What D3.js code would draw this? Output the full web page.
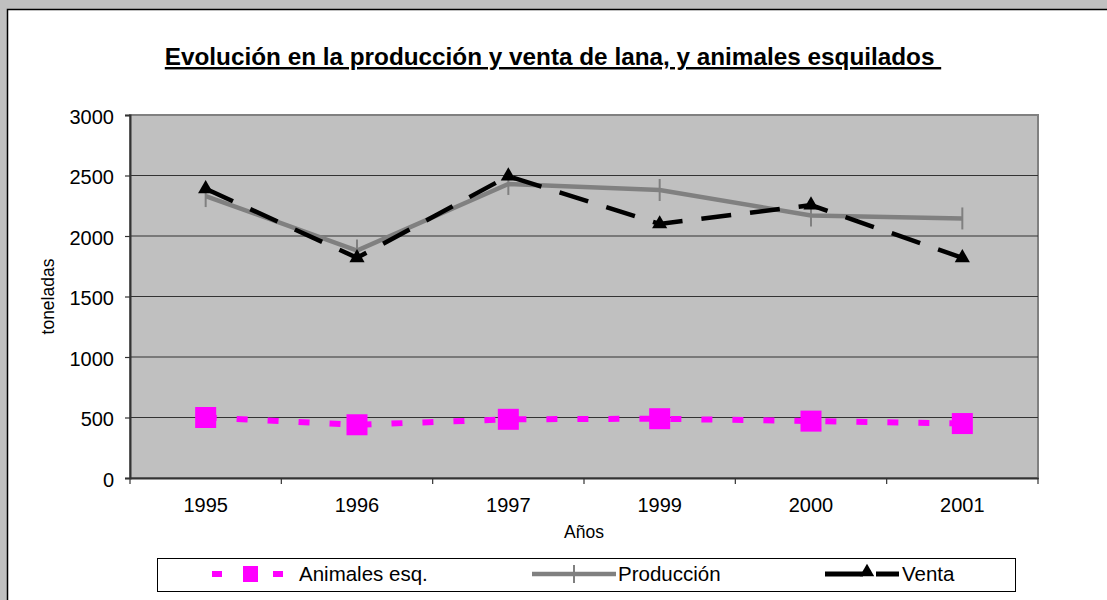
<!DOCTYPE html>
<html>
<head>
<meta charset="utf-8">
<script src="https://cdn.jsdelivr.net/npm/d3@7"></script>
<style>
  html, body { margin: 0; padding: 0; background: #c0c0c0; overflow: hidden; }
  text { font-family: "Liberation Sans", Arial, sans-serif; fill: #000; }
</style>
</head>
<body>
<script>
// chart values
var years = ["1995", "1996", "1997", "1999", "2000", "2001"];
var animales = [500, 440, 485, 490, 470, 450];
var produccion = [2330, 1880, 2430, 2380, 2170, 2145];
var venta = [2390, 1820, 2495, 2100, 2255, 1820];
var yTicks = [0, 500, 1000, 1500, 2000, 2500, 3000];
var legendNames = ["Animales esq.", "Producción", "Venta"];

var W = 1107, H = 600;
var plot = {left: 130, right: 1038, top: 115, bottom: 478};

var svg = d3.select("body").append("svg")
  .attr("width", W)
  .attr("height", H);

// white chart panel on the grey page
svg.append("rect")
  .attr("x", 7.5).attr("y", 9.5)
  .attr("width", W + 20).attr("height", H + 20)
  .style("fill", "#fff")
  .style("stroke", "#000")
  .style("stroke-width", 1.5);

var x = d3.scaleBand().domain(years).range([plot.left, plot.right]);
var y = d3.scaleLinear().domain([0, 3000]).range([plot.bottom, plot.top]);

// plot area
svg.append("rect")
  .attr("x", plot.left).attr("y", plot.top)
  .attr("width", plot.right - plot.left).attr("height", plot.bottom - plot.top)
  .style("fill", "#c0c0c0")
  .style("stroke", "#808080")
  .style("stroke-width", 2);

// gridlines
svg.append("g").selectAll("line")
  .data(yTicks.filter(function(d) { return d > 0 && d < 3000; }))
  .enter().append("line")
  .attr("x1", plot.left).attr("x2", plot.right)
  .attr("y1", function(d) { return y(d); })
  .attr("y2", function(d) { return y(d); })
  .style("stroke", "#333")
  .style("stroke-width", 1.2);

// y axis
var yAxis = svg.append("g")
  .attr("transform", "translate(" + plot.left + ",0)")
  .call(d3.axisLeft(y).tickValues(yTicks).tickFormat(d3.format("d")).tickSize(5).tickPadding(11));
yAxis.selectAll("text")
  .style("font-size", "20px")
  .attr("dy", "0.42em");

// x axis, ticks on category boundaries
var xAxis = svg.append("g")
  .attr("transform", "translate(0," + plot.bottom + ")")
  .call(d3.axisBottom(x).tickSize(0).tickPadding(20));
xAxis.selectAll("text").style("font-size", "20px");
xAxis.selectAll(".bound")
  .data(years.concat(["end"]))
  .enter().append("line")
  .attr("class", "bound")
  .attr("x1", function(d, i) { return plot.left + i * x.bandwidth(); })
  .attr("x2", function(d, i) { return plot.left + i * x.bandwidth(); })
  .attr("y1", 0).attr("y2", 6)
  .style("stroke", "#333")
  .style("stroke-width", 1.2);
svg.selectAll(".domain")
  .style("stroke", "#333")
  .style("stroke-width", 2);
svg.selectAll(".tick line").style("stroke", "#333").style("stroke-width", 1.2);

// titles
svg.append("text")
  .attr("x", 553).attr("y", 65)
  .attr("text-anchor", "middle")
  .style("font-size", "24.3px")
  .style("font-weight", "bold")
  .style("text-decoration", "underline")
  .style("white-space", "pre")
  .text("Evolución en la producción y venta de lana, y animales esquilados ");

svg.append("text")
  .attr("x", (plot.left + plot.right) / 2).attr("y", 538)
  .attr("text-anchor", "middle")
  .style("font-size", "17.5px")
  .text("Años");

svg.append("text")
  .attr("transform", "translate(54," + (plot.top + plot.bottom) / 2 + ") rotate(-90)")
  .attr("text-anchor", "middle")
  .style("font-size", "17.5px")
  .text("toneladas");

var cx = function(d, i) { return x(years[i]) + x.bandwidth() / 2; };
var line = d3.line()
  .x(cx)
  .y(function(d) { return y(d); });

// Animales esq.
svg.append("path")
  .datum(animales)
  .attr("d", line)
  .style("fill", "none")
  .style("stroke", "#ff00ff")
  .style("stroke-width", 6)
  .style("stroke-dasharray", "11,20");
svg.append("g").selectAll("rect")
  .data(animales)
  .enter().append("rect")
  .attr("x", function(d, i) { return cx(d, i) - 10.5; })
  .attr("y", function(d) { return y(d) - 10.5; })
  .attr("width", 21).attr("height", 21)
  .style("fill", "#ff00ff");

// Producción
svg.append("path")
  .datum(produccion)
  .attr("d", line)
  .style("fill", "none")
  .style("stroke", "#808080")
  .style("stroke-width", 4.5);
svg.append("g").selectAll("line")
  .data(produccion)
  .enter().append("line")
  .attr("x1", cx).attr("x2", cx)
  .attr("y1", function(d) { return y(d) - 11; })
  .attr("y2", function(d) { return y(d) + 11; })
  .style("stroke", "#808080")
  .style("stroke-width", 2);

// Venta
svg.append("path")
  .datum(venta)
  .attr("d", line)
  .style("fill", "none")
  .style("stroke", "#000")
  .style("stroke-width", 4.5)
  .style("stroke-dasharray", "30,19");
var tri = d3.symbol().type(d3.symbolTriangle).size(100);
svg.append("g").selectAll("path")
  .data(venta)
  .enter().append("path")
  .attr("d", tri)
  .attr("transform", function(d, i) { return "translate(" + cx(d, i) + "," + y(d) + ")"; })
  .style("fill", "#000");

// legend
var lg = svg.append("g");
lg.append("rect")
  .attr("x", 157.5).attr("y", 558.5)
  .attr("width", 858).attr("height", 33)
  .style("fill", "#fff")
  .style("stroke", "#000")
  .style("stroke-width", 1);
var ly = 574;
var itemX = [212, 532, 825];
var item = lg.selectAll(".item")
  .data(legendNames)
  .enter().append("g")
  .attr("class", "item")
  .attr("transform", function(d, i) { return "translate(" + itemX[i] + "," + ly + ")"; });
item.append("text")
  .attr("x", function(d, i) { return i === 0 ? 87 : (i === 1 ? 86 : 77); })
  .attr("dy", "0.36em")
  .style("font-size", "20.5px")
  .text(function(d) { return d; });

var l0 = item.filter(function(d, i) { return i === 0; });
l0.append("line")
  .attr("x1", 0).attr("x2", 71).attr("y1", 0).attr("y2", 0)
  .style("stroke", "#ff00ff").style("stroke-width", 6)
  .style("stroke-dasharray", "10,51,10");
l0.append("rect")
  .attr("x", 31).attr("y", -8).attr("width", 15).attr("height", 16)
  .style("fill", "#ff00ff");

var l1 = item.filter(function(d, i) { return i === 1; });
l1.append("line")
  .attr("x1", 0).attr("x2", 84).attr("y1", 0).attr("y2", 0)
  .style("stroke", "#808080").style("stroke-width", 4.5);
l1.append("line")
  .attr("x1", 42).attr("x2", 42).attr("y1", -9).attr("y2", 9)
  .style("stroke", "#808080").style("stroke-width", 2);

var l2 = item.filter(function(d, i) { return i === 2; });
l2.append("line")
  .attr("x1", 0).attr("x2", 74).attr("y1", 0).attr("y2", 0)
  .style("stroke", "#000").style("stroke-width", 5)
  .style("stroke-dasharray", "38,13,30");
l2.append("path")
  .attr("d", d3.symbol().type(d3.symbolTriangle).size(90))
  .attr("transform", "translate(42,-2)")
  .style("fill", "#000");
</script>
</body>
</html>
